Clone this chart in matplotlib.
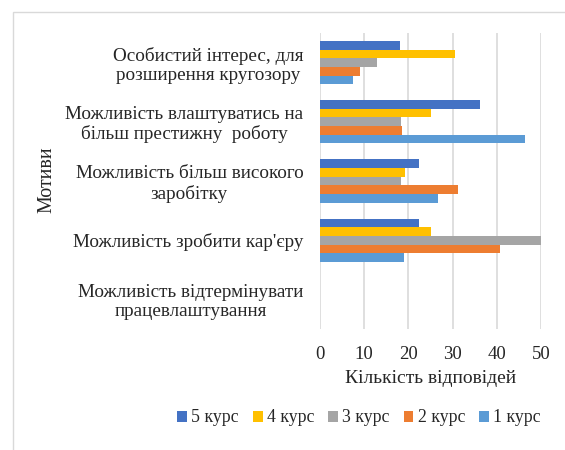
import numpy as np
import matplotlib.pyplot as plt
from matplotlib.patches import Rectangle

# =============================================================================
# Data
# =============================================================================

motives = ['Особистий інтерес, для\nрозширення кругозору',
           'Можливість влаштуватись на\nбільш престижну  роботу',
           'Можливість більш високого\nзаробітку',
           "Можливість зробити кар'єру",
           'Можливість відтермінувати\nпрацевлаштування']

course5 = [18.0, 36.3, 22.5, 22.5, 0]
course4 = [30.6, 25.0, 19.2, 25.0, 0]
course3 = [13.0, 18.4, 18.4, 50.0, 0]
course2 = [9.1, 18.6, 31.2, 40.7, 0]
course1 = [7.4, 46.3, 26.8, 19.0, 0]

series = [('5 курс', course5, '#4472C4'),
          ('4 курс', course4, '#FFC000'),
          ('3 курс', course3, '#A5A5A5'),
          ('2 курс', course2, '#ED7D31'),
          ('1 курс', course1, '#5B9BD5')]

# =============================================================================
# Plotting
# =============================================================================

plt.rcParams['font.family'] = ['Liberation Serif', 'DejaVu Serif']

fig = plt.figure(figsize=(5.65, 4.5), dpi=100)
ax = fig.add_axes([0.5664, 0.2689, 0.3912, 0.6578])

# Outer frame
fig.patches.append(Rectangle((13/565, -0.05), 1.2, 1 - 12/450 + 0.05,
                             transform=fig.transFigure, fill=False,
                             edgecolor='#d9d9d9', linewidth=1))

y = np.arange(len(motives))
h = 0.146
for k, (name, vals, col) in enumerate(series):
    ax.barh(y + (k - 2) * h, vals, height=h, color=col, label=name)

ax.set_xlim(0, 50)
ax.set_ylim(len(motives) - 0.5, -0.5)
ax.set_xticks(np.arange(0, 51, 10))
ax.set_yticks(y)
ax.set_yticklabels(motives, multialignment='center', linespacing=1.15)
ax.tick_params(length=0, colors='#262626')
ax.tick_params(axis='y', pad=12, labelsize=13.8)
ax.tick_params(axis='x', pad=12, labelsize=13.5)

ax.grid(axis='x', color='#d9d9d9', linewidth=1.2)
ax.set_axisbelow(True)
for s in ax.spines.values():
    s.set_visible(False)

ax.set_xlabel('Кількість відповідей', fontsize=14, color='#262626', labelpad=5)
fig.text(47/565, 1 - 180/450, 'Мотиви', rotation=90, fontsize=14.4,
         color='#262626', ha='center', va='center')

lgd = fig.legend(loc='center', bbox_to_anchor=(359/565, 1 - 418/450), ncol=5,
                 fontsize=12.8, frameon=False, handlelength=0.55,
                 handleheight=0.55, handletextpad=0.25, columnspacing=0.78)
for t in lgd.get_texts():
    t.set_color('#262626')

fig.savefig('out.png', dpi=100)
